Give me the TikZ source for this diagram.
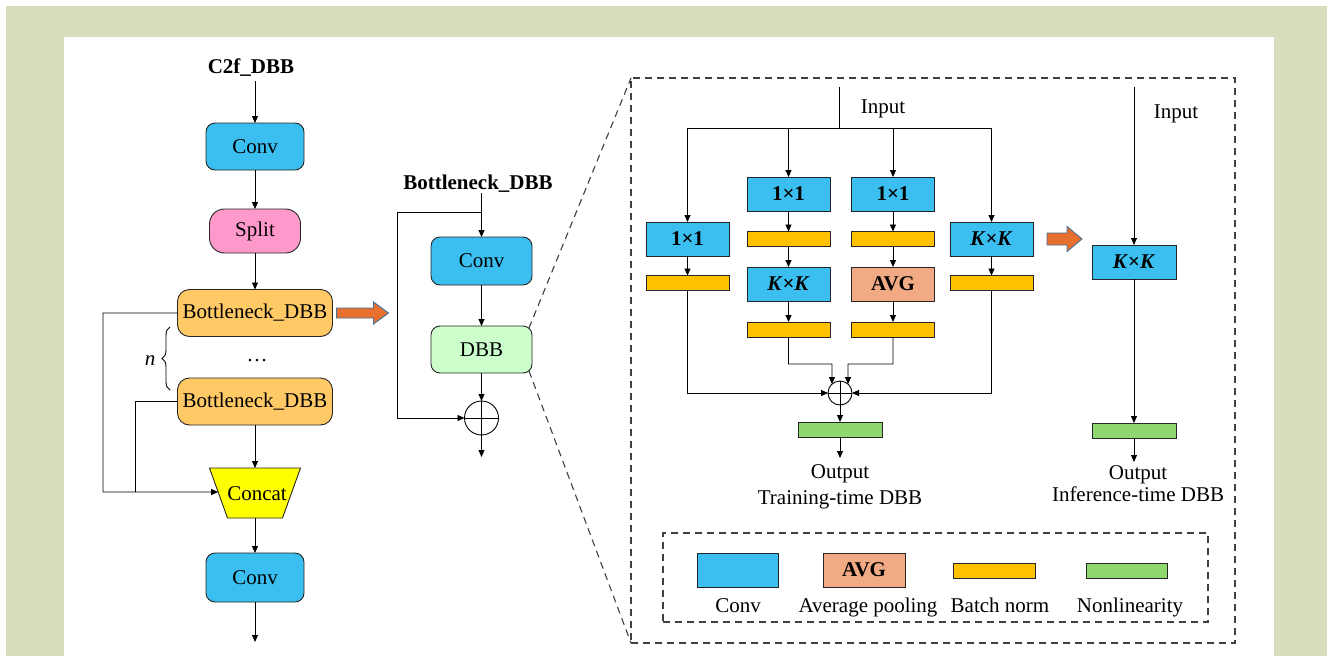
\documentclass[tikz,border=0pt]{standalone}
\usepackage{fontspec}
\setmainfont{Liberation Serif}
\usetikzlibrary{arrows.meta,calc,decorations.pathreplacing}

\definecolor{framegreen}{HTML}{D8DDBB}
\definecolor{convblue}{HTML}{3BBEF0}
\definecolor{splitpink}{HTML}{FF99CC}
\definecolor{bneckorange}{HTML}{FFCA66}
\definecolor{concatyellow}{HTML}{FFFF00}
\definecolor{dbbgreen}{HTML}{CCFFCC}
\definecolor{bnyellow}{HTML}{FFC000}
\definecolor{nlgreen}{HTML}{8FD870}
\definecolor{avgsalmon}{HTML}{F2AA84}
\definecolor{arroworange}{HTML}{E8702F}
\definecolor{arrowedge}{HTML}{41719C}

\newcommand\dfont{\fontsize{21}{24}\selectfont}

\tikzset{
  base/.style={draw=black!85, line width=0.9pt, inner sep=0pt, outer sep=0pt, font=\dfont},
  rbox/.style={base, rounded corners=9pt},
  convbox/.style={rbox, fill=convblue, minimum width=98pt, minimum height=47pt},
  splitbox/.style={base, rounded corners=15pt, fill=splitpink, minimum width=91pt, minimum height=44pt},
  bneckbox/.style={base, rounded corners=12pt, fill=bneckorange, minimum width=155pt, minimum height=47pt},
  sqbox/.style={base, minimum width=83pt, minimum height=34pt},
  kbox/.style={sqbox, fill=convblue, font=\dfont\bfseries},
  avgbox/.style={sqbox, fill=avgsalmon, font=\dfont\bfseries},
  bnbox/.style={base, fill=bnyellow, minimum width=83pt, minimum height=15pt},
  nlbox/.style={base, fill=nlgreen, minimum width=84pt, minimum height=15pt},
  plus/.style={circle, draw=black, line width=0.9pt, inner sep=0pt, outer sep=0pt},
  flow/.style={line width=0.9pt, -{Triangle[length=7pt,width=6pt]}},
  wire/.style={line width=0.9pt},
  dashbox/.style={draw=black!75, line width=1.1pt, dash pattern=on 7pt off 5pt},
  blockarrow/.style={fill=arroworange, draw=arrowedge, line width=0.9pt, line join=miter},
  label/.style={font=\dfont, inner sep=0pt, anchor=base},
}

\begin{document}
\begin{tikzpicture}[x=1pt, y=-1pt]
% frame
\fill[white] (0,0) rectangle (1327,656);
\fill[framegreen] (6,6) rectangle (1327,656);
\fill[white] (64,37) rectangle (1274,656);
\useasboundingbox (0,0) rectangle (1327,656);

% ---------------- C2f_DBB column ----------------
\node[label, font=\dfont\bfseries] (c2f) at (251,73) {C2f\_DBB};
\coordinate (in1) at (255,81);
\node[convbox] (conv1) at (255,146.5) {Conv};
\node[splitbox] (split) at (255,231) {Split};
\node[bneckbox] (bn1) at (255,313) {Bottleneck\_DBB};
\node[label] (dots) at (257,361) {\dots};
\node[bneckbox] (bn2) at (255,401.5) {Bottleneck\_DBB};
\coordinate (cTL) at (209.5,468);
\coordinate (cTR) at (300.5,468);
\coordinate (cBR) at (282.5,518);
\coordinate (cBL) at (227.5,518);
\coordinate (cTop) at (255,468);
\coordinate (cBot) at (255,518);
\coordinate (cIn) at ($(cTL)!0.48!(cBL)$);
\filldraw[fill=concatyellow, draw=black!85, line width=0.9pt] (cTL) -- (cTR) -- (cBR) -- (cBL) -- cycle;
\node[label] (concat) at (257,500) {Concat};
\node[convbox, minimum height=49pt] (conv2) at (255,577.5) {Conv};
\coordinate (out1) at (255,642);
\coordinate (loopA) at (103,492);
\coordinate (loopB) at (135,492);

\draw[flow] (in1) -- (conv1);
\draw[flow] (conv1) -- (split);
\draw[flow] (split) -- (bn1);
\draw[flow] (bn2) -- (cTop);
\draw[flow] (cBot) -- (conv2);
\draw[flow] (conv2) -- (out1);
\draw[flow] (bn1.west) -| (loopA) -- (cIn);
\draw[wire] (bn2.west) -| (loopB);

% repetition brace
\coordinate (braceLo) at (170,390);
\coordinate (braceHi) at (170,327);
\draw[wire, decorate, decoration={brace, amplitude=8pt}] (braceLo) -- (braceHi);
\node[label, font=\dfont\itshape] (nlab) at (150,365) {n};

% block arrow to the bottleneck detail
\draw[blockarrow] ($(bn1.east)+(4,-5)$) -- ++(37,0) -- ++(0,-6) -- ++(15,11)
  -- ++(-15,11) -- ++(0,-6) -- ++(-37,0) -- cycle;

% ---------------- Bottleneck_DBB column ----------------
\node[label, font=\dfont\bfseries] (bneckt) at (478,189) {Bottleneck\_DBB};
\coordinate (in2) at (481.5,193);
\coordinate (fork2) at (481.5,212);
\coordinate (skip2) at (397,212);
\node[convbox, minimum width=101pt, minimum height=48pt] (conv3) at (481.5,261) {Conv};
\node[rbox, fill=dbbgreen, minimum width=101pt, minimum height=47pt] (dbb) at (481.5,349.5) {DBB};
\node[plus, minimum size=34pt] (add1) at (481.5,418) {};
\draw[wire] (add1.north) -- (add1.south) (add1.west) -- (add1.east);
\coordinate (out2) at (481.5,457);

\draw[flow] (in2) -- (conv3);
\draw[flow] (fork2) -- (skip2) |- (add1.west);
\draw[flow] (conv3) -- (dbb);
\draw[flow] (dbb) -- (add1);
\draw[flow] (add1) -- (out2);

% ---------------- DBB detail ----------------
\node[dashbox, minimum width=604pt, minimum height=565pt, inner sep=0pt, outer sep=0pt] (detail) at (933,360.5) {};
\draw[dashbox] ($(dbb.north east)+(-3,2)$) -- (detail.north west);
\draw[dashbox] ($(dbb.south east)+(-3,-2)$) -- (detail.south west);

% training-time block
\node[label] (inputA) at (883,113) {Input};
\coordinate (srcA) at (839,87);
\coordinate (forkA) at (839,128);

\node[kbox] (a1) at (687.5,239) {1×1};
\node[bnbox] (a2) at (687.5,283) {};

\node[kbox] (b1) at (788.5,194) {1×1};
\node[bnbox] (b2) at (788.5,239) {};
\node[kbox] (b3) at (788.5,284) {\textit{K}×\textit{K}};
\node[bnbox] (b4) at (788.5,329.5) {};

\node[kbox] (c1) at (893,194) {1×1};
\node[bnbox] (c2) at (893,239) {};
\node[avgbox] (c3) at (893,284) {AVG};
\node[bnbox] (c4) at (893,329.5) {};

\node[kbox] (d1) at (991.5,239) {\textit{K}×\textit{K}};
\node[bnbox] (d2) at (991.5,283) {};

\node[plus, minimum size=24pt] (add2) at (840,393) {};
\draw[wire] (add2.north) -- (add2.south) (add2.west) -- (add2.east);
\node[nlbox] (nlA) at (840,429.5) {};
\coordinate (outA) at (840,458);
\coordinate (joinB) at (832,364);
\coordinate (joinC) at (848,364);

\draw[wire] (srcA) -- (forkA);
\draw[flow] (forkA) -| (a1);
\draw[flow] (forkA) -| (b1);
\draw[flow] (forkA) -| (c1);
\draw[flow] (forkA) -| (d1);
\draw[flow] (a1) -- (a2);
\draw[flow] (b1) -- (b2);
\draw[flow] (b2) -- (b3);
\draw[flow] (b3) -- (b4);
\draw[flow] (c1) -- (c2);
\draw[flow] (c2) -- (c3);
\draw[flow] (c3) -- (c4);
\draw[flow] (d1) -- (d2);
\draw[flow] (a2.south) |- (add2.west);
\draw[flow] (d2.south) |- (add2.east);
\draw[flow] (b4.south) |- (joinB) -- (add2.132);
\draw[flow] (c4.south) |- (joinC) -- (add2.48);
\draw[flow] (add2) -- (nlA);
\draw[flow] (nlA) -- (outA);
\node[label] (outAt) at (840,478) {Output};
\node[label] (trainT) at (840,504) {Training-time DBB};

% re-parameterisation arrow
\draw[blockarrow] ($(d1.east)+(14,-6)$) -- ++(20,0) -- ++(0,-6.5) -- ++(15,12.5)
  -- ++(-15,12.5) -- ++(0,-6.5) -- ++(-20,0) -- cycle;

% inference-time block
\node[label] (inputB) at (1176,118) {Input};
\coordinate (srcB) at (1134,87);
\node[kbox, minimum width=84pt] (e1) at (1134,262) {\textit{K}×\textit{K}};
\node[nlbox] (e2) at (1134,430.5) {};
\coordinate (outB) at (1134,462);
\draw[flow] (srcB) -- (e1);
\draw[flow] (e1) -- (e2);
\draw[flow] (e2) -- (outB);
\node[label] (outBt) at (1138,479) {Output};
\node[label] (infT) at (1138,501) {Inference-time DBB};

% legend
\node[dashbox, minimum width=545pt, minimum height=89pt, inner sep=0pt] (legend) at (935.5,577.5) {};
\node[sqbox, fill=convblue, minimum width=81pt] (lg1) at (737.5,570) {};
\node[avgbox, minimum width=82pt] (lg2) at (864,570) {AVG};
\node[bnbox, minimum width=82pt] (lg3) at (994,570.5) {};
\node[nlbox, minimum width=81pt] (lg4) at (1126.5,570.5) {};
\node[label] (lt1) at (738,612) {Conv};
\node[label] (lt2) at (868,612) {Average pooling};
\node[label] (lt3) at (1000,612) {Batch norm};
\node[label] (lt4) at (1130,612) {Nonlinearity};
\end{tikzpicture}
\end{document}
